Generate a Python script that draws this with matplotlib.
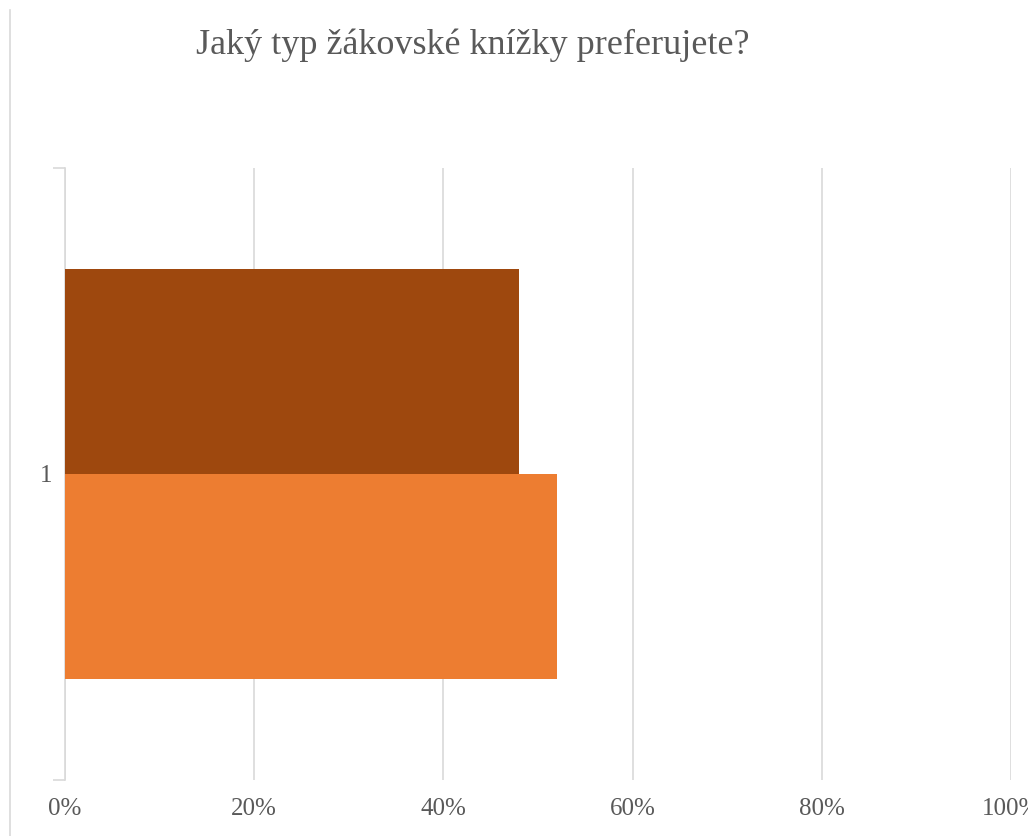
import matplotlib.pyplot as plt
from matplotlib.lines import Line2D

title = "Jaký typ žákovské knížky preferujete?"
category = [1]
share_brown = [0.48]
share_orange = [0.52]
x_ticks = [0, 0.2, 0.4, 0.6, 0.8, 1.0]
x_labels = ["0%", "20%", "40%", "60%", "80%", "100%"]

grey_text = "#595959"
grid_col = "#D9D9D9"

plt.rcParams['font.family'] = ['Liberation Serif', 'DejaVu Serif']

fig = plt.figure(figsize=(10.28, 8.36), dpi=100)
ax = fig.add_axes([65/1028, 1 - 780/836, (1011 - 65)/1028, (780 - 168)/836])

h = 0.335
ax.barh([c + h/2 for c in category], share_brown, height=h, color="#9E480E", zorder=3)
ax.barh([c - h/2 for c in category], share_orange, height=h, color="#ED7D31", zorder=3)

ax.set_xlim(0, 1.0)
ax.set_ylim(0.5, 1.5)
ax.set_xticks(x_ticks)
ax.set_xticklabels(x_labels, fontsize=18, color=grey_text)
ax.tick_params(axis='x', length=0, pad=13)
ax.grid(axis='x', color=grid_col, linewidth=1.2, zorder=0)

# category boundary ticks + centred label
ax.set_yticks([0.5, 1.5])
ax.set_yticklabels([])
ax.tick_params(axis='y', which='major', length=9, color=grid_col, width=1.2)
ax.set_yticks(category, minor=True)
ax.set_yticklabels([str(c) for c in category], minor=True, fontsize=18, color=grey_text)
ax.tick_params(axis='y', which='minor', length=0, pad=9)

for s in ['top', 'right', 'bottom']:
    ax.spines[s].set_visible(False)
ax.spines['left'].set_color(grid_col)
ax.spines['left'].set_linewidth(1.2)

fig.text(473/1028, 1 - 45/836, title, ha='center', va='center', fontsize=26, color=grey_text)

# chart area border on the left
fig.add_artist(Line2D([10/1028, 10/1028], [0, 1 - 10/836], transform=fig.transFigure,
                      color=grid_col, linewidth=1.2))

fig.savefig("out.png", dpi=100)
